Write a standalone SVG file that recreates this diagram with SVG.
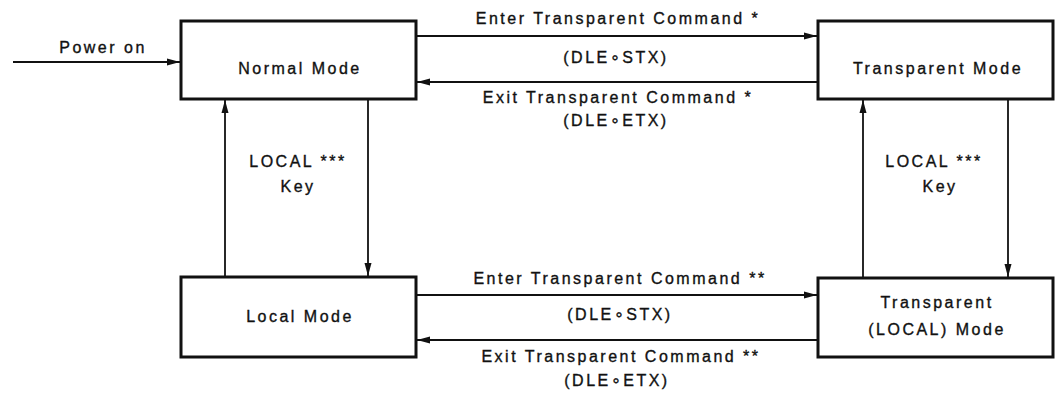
<svg xmlns="http://www.w3.org/2000/svg" width="1060" height="394" viewBox="0 0 1060 394">
  <style>
    .box { fill: #fff; stroke: #111; stroke-width: 3; }
    .lbl { font-family: "Liberation Sans", "DejaVu Sans", Arial, sans-serif; font-size: 16px; letter-spacing: 2.5px; fill: #111; stroke: #111; stroke-width: 0.35; text-anchor: middle; }
    .conn { stroke: #111; stroke-width: 1.8; fill: none; marker-end: url(#ah); }
  </style>
  <defs>
    <marker id="ah" markerUnits="userSpaceOnUse" markerWidth="14" markerHeight="10" refX="13" refY="5" orient="auto">
      <path d="M0,1.5 L13,5 L0,8.5 Z" fill="#111"/>
    </marker>
  </defs>
  <rect width="1060" height="394" fill="#fff"/>

  <g id="connectors">
    <line class="conn" x1="13" y1="62" x2="180" y2="62"/>
    <line class="conn" x1="417" y1="36" x2="817" y2="36"/>
    <line class="conn" x1="817" y1="82" x2="417" y2="82"/>
    <line class="conn" x1="417" y1="295" x2="817" y2="295"/>
    <line class="conn" x1="817" y1="340" x2="417" y2="340"/>
    <line class="conn" x1="225" y1="276" x2="225" y2="100"/>
    <line class="conn" x1="368" y1="100" x2="368" y2="276"/>
    <line class="conn" x1="863" y1="277" x2="863" y2="100"/>
    <line class="conn" x1="1008" y1="100" x2="1008" y2="277"/>
    <text class="lbl" x="103" y="53">Power on</text>
    <text class="lbl" x="618" y="24">Enter Transparent Command *</text>
    <text class="lbl" x="616" y="63">(DLE∘STX)</text>
    <text class="lbl" x="618" y="103">Exit Transparent Command *</text>
    <text class="lbl" x="616" y="126">(DLE∘ETX)</text>
    <text class="lbl" x="620" y="284">Enter Transparent Command **</text>
    <text class="lbl" x="620" y="320">(DLE∘STX)</text>
    <text class="lbl" x="621" y="362">Exit Transparent Command **</text>
    <text class="lbl" x="617" y="386">(DLE∘ETX)</text>
    <text class="lbl" x="298" y="167">LOCAL ***</text>
    <text class="lbl" x="298" y="192">Key</text>
    <text class="lbl" x="934" y="167">LOCAL ***</text>
    <text class="lbl" x="940" y="192">Key</text>
  </g>

  <g id="normal-mode">
    <rect class="box" x="181" y="21" width="235" height="78"/>
    <text class="lbl" x="300" y="74">Normal Mode</text>
  </g>
  <g id="transparent-mode">
    <rect class="box" x="818" y="21" width="235" height="78"/>
    <text class="lbl" x="938" y="74">Transparent Mode</text>
  </g>
  <g id="local-mode">
    <rect class="box" x="181" y="277" width="235" height="80"/>
    <text class="lbl" x="300" y="322">Local Mode</text>
  </g>
  <g id="transparent-local-mode">
    <rect class="box" x="818" y="278" width="235" height="79"/>
    <text class="lbl" x="937" y="308">Transparent</text>
    <text class="lbl" x="937" y="335">(LOCAL) Mode</text>
  </g>
</svg>
